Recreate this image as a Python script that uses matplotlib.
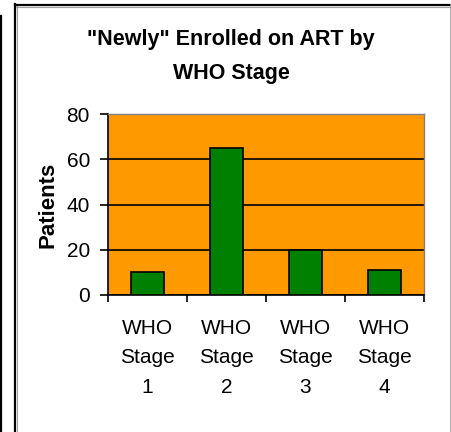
import matplotlib
matplotlib.use("Agg")
import matplotlib.pyplot as plt
from matplotlib.lines import Line2D

# --- data ---
stages = ["WHO\nStage\n1", "WHO\nStage\n2", "WHO\nStage\n3", "WHO\nStage\n4"]
patients = [10, 65, 20, 11]
y_ticks = [0, 20, 40, 60, 80]

W, H = 452, 432

plt.rcParams['font.family'] = ['Liberation Sans', 'DejaVu Sans']

fig = plt.figure(figsize=(W / 100, H / 100), dpi=100)
fig.patch.set_facecolor('white')


def fx(px):
    return px / W


def fy(py):
    return 1 - py / H


# outer frame lines (pixel positions converted to figure fractions)
fig.add_artist(Line2D([fx(1.5), fx(1.5)], [fy(16), fy(432)], color='black', lw=1.6))
fig.add_artist(Line2D([fx(15.5), fx(15.5)], [fy(4), fy(432)], color='black', lw=1.6))
fig.add_artist(Line2D([fx(17), fx(17)], [fy(6), fy(432)], color='#a0a0a0', lw=0.8))
fig.add_artist(Line2D([fx(15), fx(451)], [fy(5), fy(5)], color='black', lw=1.6))
fig.add_artist(Line2D([fx(16), fx(451)], [fy(6.5), fy(6.5)], color='#a0a0a0', lw=0.8))
fig.add_artist(Line2D([fx(451), fx(451)], [fy(5), fy(432)], color='#a0a0a0', lw=1.2))

ax = fig.add_axes([fx(108), fy(295), fx(424) - fx(108), fy(114) - fy(295)])
ax.set_facecolor('#FF9900')

x = list(range(len(stages)))
ax.bar(x, patients, width=0.41, color='#008000', edgecolor='black', linewidth=1.2, zorder=3)

ax.set_xlim(-0.5, len(stages) - 0.5)
ax.set_ylim(0, 80)
ax.set_yticks(y_ticks)
ax.yaxis.grid(True, color='black', linewidth=1.2, zorder=1)
ax.set_axisbelow(True)

# category boundaries get the tick marks, labels sit in the middle
ax.set_xticks(x)
ax.set_xticklabels(stages, linespacing=1.72)
ax.set_xticks([i - 0.5 for i in range(len(stages) + 1)], minor=True)
ax.tick_params(axis='x', which='major', length=0, pad=17, labelsize=15)
ax.tick_params(axis='x', which='minor', length=5, width=1.2, direction='out')
ax.tick_params(axis='y', length=6, width=1.2, direction='out', pad=7, labelsize=15)

for side in ['top', 'right']:
    ax.spines[side].set_color('#808080')
    ax.spines[side].set_linewidth(1.0)
for side in ['left', 'bottom']:
    ax.spines[side].set_color('black')
    ax.spines[side].set_linewidth(1.2)

ax.set_ylabel('Patients', fontsize=16, fontweight='bold', labelpad=6)

fig.text(fx(231), fy(40), '"Newly" Enrolled on ART by', ha='center', va='center',
         fontsize=15.5, fontweight='bold')
fig.text(fx(231), fy(74), 'WHO Stage', ha='center', va='center',
         fontsize=15.5, fontweight='bold')

fig.savefig('out.png', dpi=100)
